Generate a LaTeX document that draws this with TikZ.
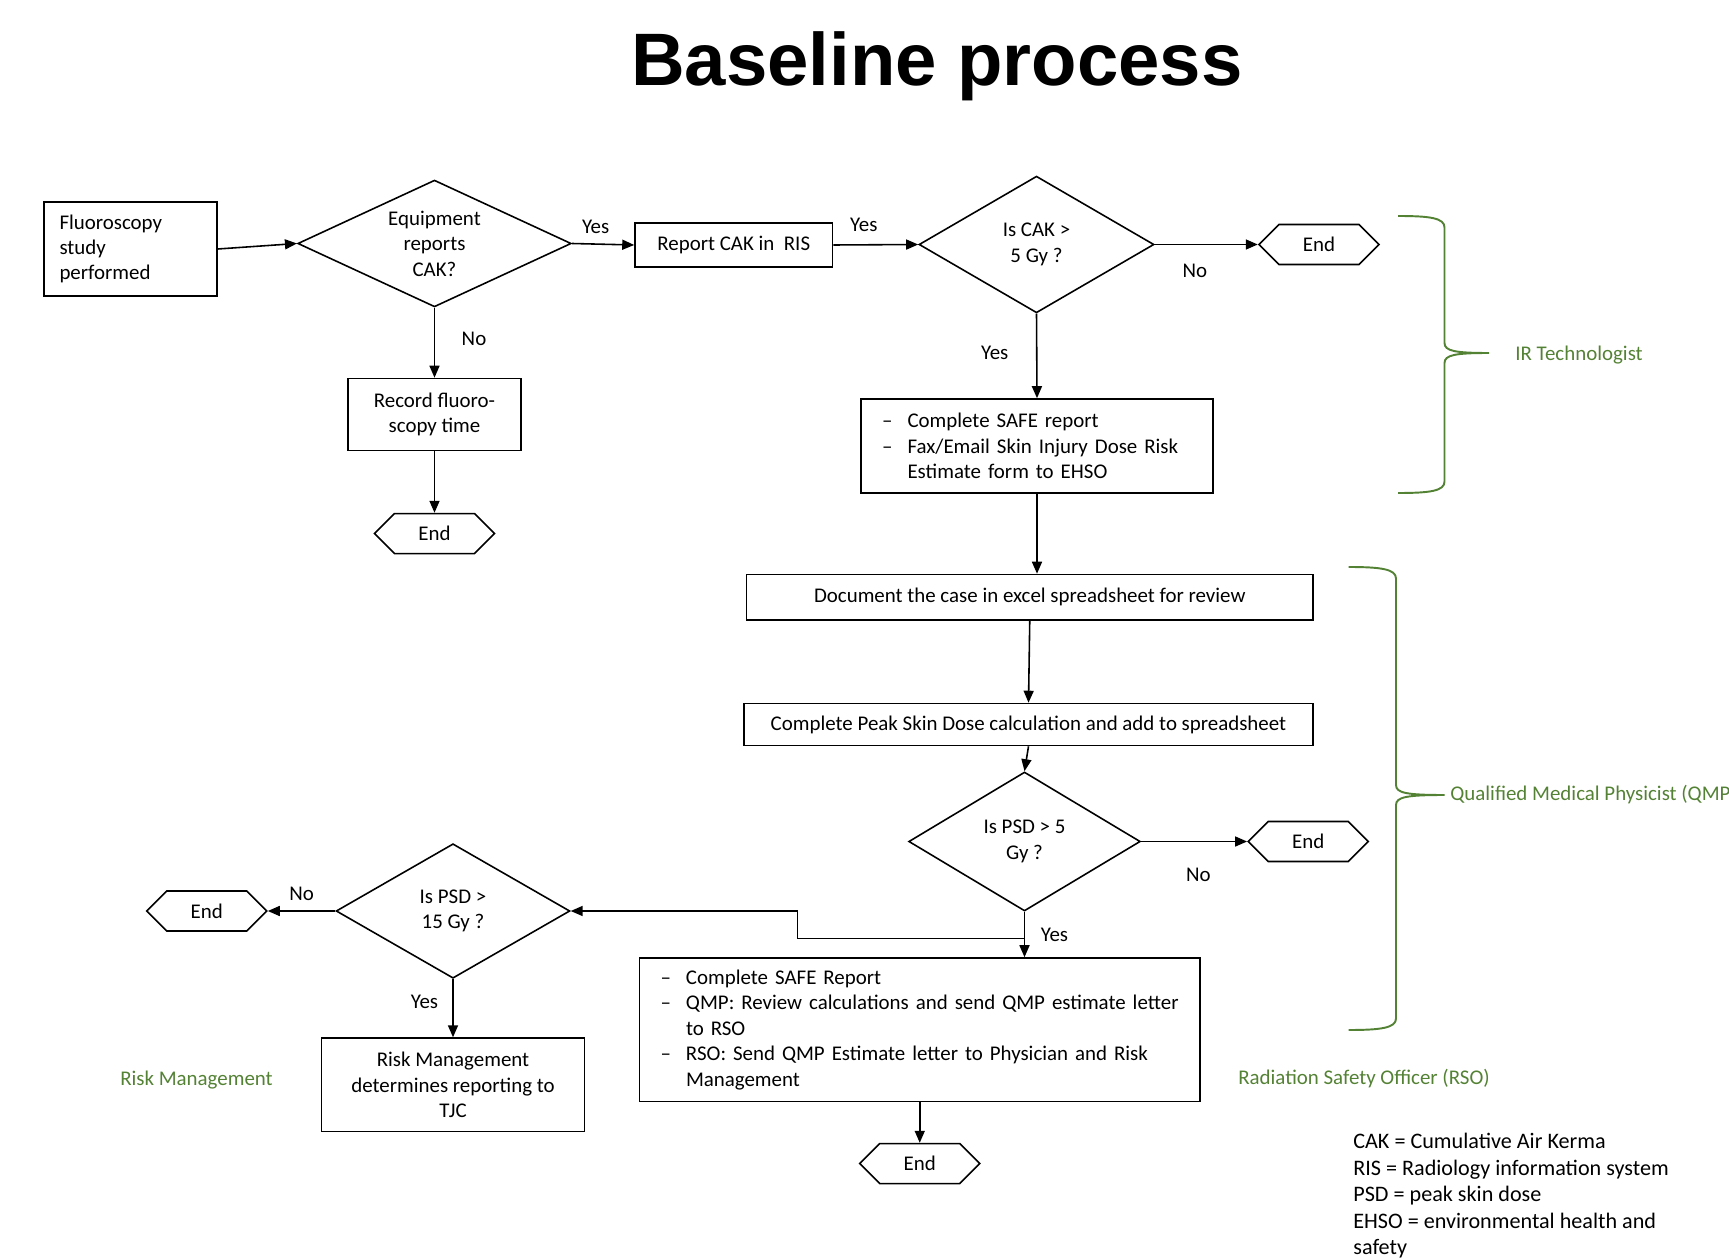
\documentclass[tikz,border=0pt]{standalone}
\usepackage{fontspec}
\setmainfont{Carlito}
\newfontfamily\titlefamily{Liberation Sans}
\usetikzlibrary{positioning,calc,shapes.geometric,shapes.symbols,arrows.meta}
\definecolor{RoleGreen}{HTML}{548235}
\newcommand{\flowfont}{\fontsize{11.9pt}{14.45pt}\selectfont}
\newcommand{\legendfont}{\fontsize{12.6pt}{15.05pt}\selectfont}
\newcommand{\headfont}{\fontsize{42.3pt}{50pt}\titlefamily\bfseries}
\newcommand{\listdash}{\makebox[0.51cm][l]{\textendash}}
\newcommand{\listgap}{\hspace*{0.51cm}}
\tikzset{
  flow box/.style={draw=black,line width=0.9pt,align=center,inner sep=0pt,
    font=\flowfont},
  flow list/.style={flow box,align=left,inner xsep=0.42cm},
  flow decision/.style={diamond,draw=black,line width=0.9pt,align=center,
    inner sep=0pt,font=\flowfont},
  flow end/.style={signal,signal to=east and west,signal pointer angle=90,
    draw=black,line width=0.9pt,minimum width=2.4cm,minimum height=0.8cm,
    inner sep=0pt,font=\flowfont},
  flow arrow/.style={-{Triangle[length=0.24cm,width=0.2cm]},line width=0.9pt},
  flow label/.style={font=\flowfont,inner sep=0pt},
  role label/.style={font=\flowfont,text=RoleGreen,inner sep=0pt},
  role brace/.style={draw=RoleGreen,line width=1.1pt}
}

\begin{document}
\begin{tikzpicture}
  \useasboundingbox (0,0) rectangle (34.58,-25.18);
  \node[font=\headfont,anchor=base,inner sep=0pt] (title) at (18.74,-1.72) {Baseline process};
  % technologist part
  \node[flow box,align=left,inner xsep=0.31cm,text width=2.84cm,minimum height=1.88cm] (study) at (2.61,-4.98) {Fluoroscopy\\study\\performed};
  \node[flow decision,aspect=2.16,minimum width=5.47cm,minimum height=2.536cm] (dEquip) at (8.69,-4.87) {Equipment\\reports\\CAK?};
  \node[flow box,minimum width=3.95cm,minimum height=0.88cm] (report) at (14.675,-4.9) {Report CAK in\ \ RIS};
  \node[flow decision,aspect=1.72,minimum width=4.70cm,minimum height=2.734cm] (dCAK) at (20.73,-4.89) {Is CAK >\\5 Gy ?};
  \node[flow end,right=2.06cm of dCAK] (endCAK) {End};
  \node[flow box,minimum width=3.46cm,minimum height=1.44cm,below=1.40cm of dEquip] (record) {Record fluoro-\\scopy time};
  \node[flow end,below=1.23cm of record] (endRecord) {End};
  \node[flow list,text width=6.2cm,minimum height=1.88cm] (safeTech) at (20.74,-8.92) {\listdash Complete SAFE report\\\listdash Fax/Email Skin Injury Dose Risk\\\listgap Estimate form to EHSO};
  % physicist part
  \node[flow box,minimum width=11.33cm,minimum height=0.91cm] (document) at (20.595,-11.945) {Document the case in excel spreadsheet for review};
  \node[flow box,minimum width=11.38cm,minimum height=0.84cm] (peak) at (20.57,-14.49) {Complete Peak Skin Dose calculation and add to spreadsheet};
  \node[flow decision,aspect=1.67,minimum width=4.632cm,minimum height=2.78cm] (dPSD) at (20.49,-16.83) {Is PSD > 5\\Gy ?};
  \node[flow end,right=2.12cm of dPSD] (endPSD) {End};
  \node[flow list,text width=10.37cm,minimum height=2.87cm] (safeQmp) at (18.395,-20.595) {\listdash Complete SAFE Report\\\listdash QMP: Review calculations and send QMP estimate letter\\\listgap to RSO\\\listdash RSO: Send QMP Estimate letter to Physician and Risk\\\listgap Management};
  \node[flow end,below=0.81cm of safeQmp] (endQmp) {End};
  % risk management part
  \node[flow decision,aspect=1.74,minimum width=4.676cm,minimum height=2.69cm] (dHigh) at (9.06,-18.22) {Is PSD >\\15 Gy ?};
  \node[flow end,left=1.35cm of dHigh] (endHigh) {End};
  \node[flow box,minimum width=5.26cm,minimum height=1.87cm,below=1.165cm of dHigh] (risk) {Risk Management\\determines reporting to\\TJC};
  \coordinate (split) at ([yshift=-0.53cm]dPSD.south);

  \draw[flow arrow] (study.east) -- (dEquip.west);
  \draw[flow arrow] (dEquip.east) -- node[flow label,pos=0.38,yshift=0.35cm]{Yes} (report.west);
  \draw[flow arrow] (report.east) -- node[flow label,pos=0.36,yshift=0.40cm]{Yes} (dCAK.west);
  \draw[flow arrow] (dCAK.east) -- node[flow label,pos=0.39,yshift=-0.53cm]{No} (endCAK.west);
  \draw[flow arrow] (dEquip.south) -- node[flow label,pos=0.45,xshift=0.79cm]{No} (record.north);
  \draw[flow arrow] (record.south) -- (endRecord.north);
  \draw[flow arrow] (dCAK.south) -- node[flow label,pos=0.46,xshift=-0.84cm]{Yes} (safeTech.north);
  \draw[flow arrow] (safeTech.south) -- (safeTech.south |- document.north);
  \draw[flow arrow] (document.south) -- (peak.north);
  \draw[flow arrow] (peak.south) -- (dPSD.north);
  \draw[flow arrow] (dPSD.east) -- node[flow label,pos=0.54,yshift=-0.66cm]{No} (endPSD.west);
  \draw[flow arrow] (dPSD.south) -- node[flow label,pos=0.51,xshift=0.6cm]{Yes} (dPSD.south |- safeQmp.north);
  \draw[flow arrow] (split) -- ++(-4.54,0) |- (dHigh.east);
  \draw[flow arrow] (dHigh.west) -- node[flow label,pos=0.5,yshift=0.35cm]{No} (endHigh.east);
  \draw[flow arrow] (dHigh.south) -- node[flow label,pos=0.40,xshift=-0.57cm]{Yes} (risk.north);
  \draw[flow arrow] (safeQmp.south) -- (endQmp.north);

  % roles
  \draw[role brace] (27.96,-4.32) .. controls (28.6,-4.32) and (28.89,-4.36) .. (28.89,-4.55) -- (28.89,-6.86)
    .. controls (28.89,-7.02) and (29.1,-7.06) .. (29.78,-7.06)
    (29.78,-7.06) .. controls (29.1,-7.06) and (28.89,-7.10) .. (28.89,-7.26) -- (28.89,-9.63)
    .. controls (28.89,-9.82) and (28.6,-9.86) .. (27.96,-9.86);
  \draw[role brace] (26.97,-11.34) .. controls (27.61,-11.34) and (27.92,-11.38) .. (27.92,-11.57) -- (27.92,-15.70)
    .. controls (27.92,-15.86) and (28.13,-15.90) .. (28.89,-15.90)
    (28.89,-15.90) .. controls (28.13,-15.90) and (27.92,-15.94) .. (27.92,-16.10) -- (27.92,-20.37)
    .. controls (27.92,-20.56) and (27.61,-20.60) .. (26.97,-20.60);
  \node[role label,anchor=west] (irRole) at (30.30,-7.10) {IR Technologist};
  \node[role label,anchor=west] (qmpRole) at (29.0,-15.90) {Qualified Medical Physicist (QMP)};
  \node[role label] (rsoRole) at (27.28,-21.57) {Radiation Safety Officer (RSO)};
  \node[role label] (riskRole) at (3.93,-21.61) {Risk Management};
  \node[font=\legendfont,align=left,anchor=north west,inner sep=0pt] (legend) at (27.06,-22.66) {CAK = Cumulative Air Kerma\\RIS = Radiology information system\\PSD = peak skin dose\\EHSO = environmental health and\\safety};
\end{tikzpicture}
\end{document}
